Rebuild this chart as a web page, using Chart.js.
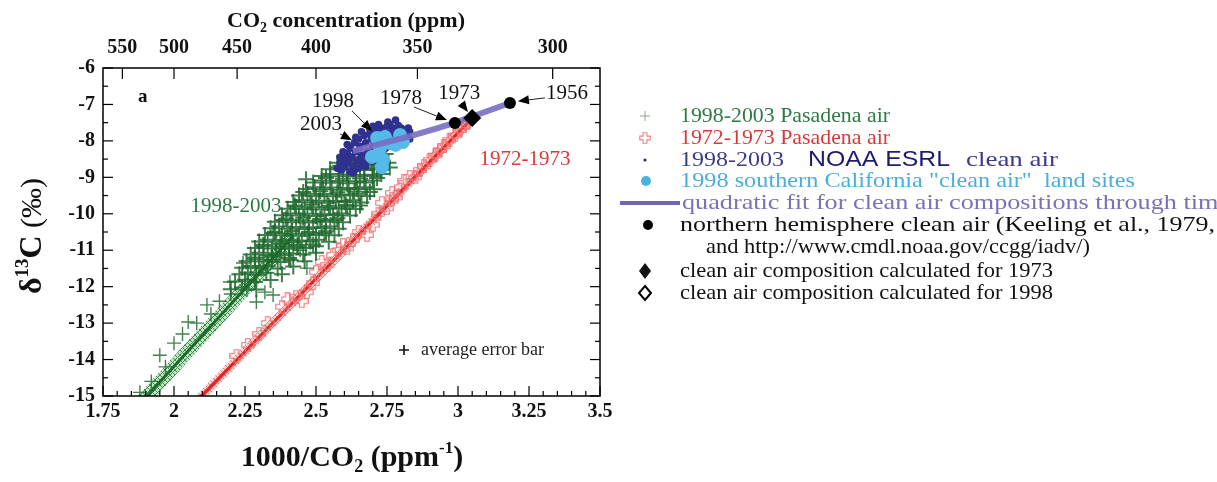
<!DOCTYPE html>
<html><head><meta charset="utf-8">
<script src="https://cdn.jsdelivr.net/npm/chart.js@4.4.0/dist/chart.umd.min.js"></script>
<style>html,body{margin:0;padding:0;background:#fff;}#wrap{width:1217px;height:482px;position:relative;}</style>
</head><body><div id="wrap"><canvas id="c" width="1217" height="482"></canvas></div>
<script>
// ---- tick labels ----
const xTickValues = [1.75, 2, 2.25, 2.5, 2.75, 3, 3.25, 3.5];
const xTickLabels = ['1.75', '2', '2.25', '2.5', '2.75', '3', '3.25', '3.5'];
const yTickValues = [-6, -7, -8, -9, -10, -11, -12, -13, -14, -15];
const yTickLabels = ['-6', '-7', '-8', '-9', '-10', '-11', '-12', '-13', '-14', '-15'];
const topTickPpm = [550, 500, 450, 400, 350, 300];

// ---- series values (x = 1000/CO2, y = d13C) ----
const pasadena98Fit = [[1.85, -15.47], [2.42, -10.60]];
const pasadena98Outliers = [
  [1.88,-14.9],[1.92,-14.6],[1.95,-13.88],[1.97,-14.2],[2.00,-13.55],[2.03,-13.3],[2.05,-12.97],[2.08,-13.0],[2.116,-12.5],[2.13,-12.75],
  [2.16,-12.4],[2.197,-11.87],[2.20,-12.2],[2.243,-11.35],[2.257,-12.09],[2.29,-12.42],[2.32,-12.15],[2.349,-12.23],[2.444,-11.0],[2.468,-11.49]
];
const pasadena98 = [
  [2.60,-8.42],[2.63,-8.37],[2.66,-8.44],[2.69,-8.38],[2.72,-8.43],[2.745,-8.36],
  [2.575,-8.6],[2.605,-8.55],[2.635,-8.61],[2.665,-8.56],[2.695,-8.62],[2.725,-8.57],[2.755,-8.6],
  [2.55,-8.78],[2.58,-8.73],[2.61,-8.79],[2.64,-8.74],[2.67,-8.8],[2.70,-8.75],[2.73,-8.78],[2.76,-8.73],
  [2.52,-8.96],[2.55,-8.91],[2.58,-8.97],[2.61,-8.92],[2.64,-8.98],[2.67,-8.93],[2.70,-8.96],[2.73,-8.91],
  [2.49,-9.14],[2.52,-9.09],[2.55,-9.15],[2.58,-9.1],[2.61,-9.16],[2.64,-9.11],[2.67,-9.14],[2.70,-9.09],
  [2.465,-9.32],[2.495,-9.27],[2.525,-9.33],[2.555,-9.28],[2.585,-9.34],[2.615,-9.29],[2.645,-9.32],[2.675,-9.27],[2.705,-9.33],
  [2.44,-9.5],[2.47,-9.45],[2.50,-9.51],[2.53,-9.46],[2.56,-9.52],[2.59,-9.47],[2.62,-9.5],[2.65,-9.45],[2.68,-9.51],
  [2.42,-9.68],[2.45,-9.63],[2.48,-9.69],[2.51,-9.64],[2.54,-9.7],[2.57,-9.65],[2.60,-9.68],[2.63,-9.63],[2.66,-9.69],
  [2.40,-9.86],[2.43,-9.81],[2.46,-9.87],[2.49,-9.82],[2.52,-9.88],[2.55,-9.83],[2.58,-9.86],[2.61,-9.81],[2.64,-9.87],
  [2.38,-10.04],[2.41,-9.99],[2.44,-10.05],[2.47,-10.0],[2.50,-10.06],[2.53,-10.01],[2.56,-10.04],[2.59,-9.99],[2.62,-10.05],
  [2.355,-10.22],[2.385,-10.17],[2.415,-10.23],[2.445,-10.18],[2.475,-10.24],[2.505,-10.19],[2.535,-10.22],[2.565,-10.17],[2.595,-10.23],
  [2.34,-10.4],[2.37,-10.35],[2.40,-10.41],[2.43,-10.36],[2.46,-10.42],[2.49,-10.37],[2.52,-10.4],[2.55,-10.35],[2.58,-10.41],
  [2.32,-10.58],[2.35,-10.53],[2.38,-10.59],[2.41,-10.54],[2.44,-10.6],[2.47,-10.55],[2.50,-10.58],[2.53,-10.53],[2.565,-10.59],
  [2.30,-10.76],[2.33,-10.71],[2.36,-10.77],[2.39,-10.72],[2.42,-10.78],[2.45,-10.73],[2.48,-10.76],[2.51,-10.71],[2.545,-10.77],
  [2.285,-10.94],[2.315,-10.89],[2.345,-10.95],[2.375,-10.9],[2.405,-10.96],[2.435,-10.91],[2.465,-10.94],[2.50,-10.89],
  [2.27,-11.12],[2.30,-11.07],[2.33,-11.13],[2.36,-11.08],[2.39,-11.14],[2.42,-11.09],[2.455,-11.12],[2.50,-11.07],
  [2.255,-11.3],[2.285,-11.25],[2.315,-11.31],[2.345,-11.26],[2.375,-11.32],[2.41,-11.27],[2.46,-11.3],
  [2.24,-11.48],[2.27,-11.43],[2.30,-11.49],[2.33,-11.44],[2.365,-11.5],[2.42,-11.45],
  [2.23,-11.66],[2.26,-11.61],[2.29,-11.67],[2.325,-11.62],[2.38,-11.66],
  [2.215,-11.86],[2.25,-11.81],[2.285,-11.87],[2.34,-11.82],
  [2.20,-12.07],[2.24,-12.02],[2.29,-12.08],
  [2.465,-9.05],[2.535,-9.02],[2.595,-9.04],[2.655,-9.03],[2.715,-9.02],
  [2.455,-9.4],[2.515,-9.38],[2.575,-9.41],[2.635,-9.39],[2.69,-9.4],
  [2.425,-9.77],[2.485,-9.75],[2.545,-9.78],[2.605,-9.76],[2.655,-9.77],
  [2.395,-10.13],[2.455,-10.11],[2.515,-10.14],[2.575,-10.12],
  [2.355,-10.49],[2.415,-10.47],[2.475,-10.5],[2.535,-10.48],
  [2.315,-10.85],[2.375,-10.83],[2.435,-10.86],[2.49,-10.84],
  [2.285,-11.2],[2.345,-11.18],[2.405,-11.21],
  [2.585,-8.68],[2.645,-8.66],[2.705,-8.67],[2.62,-8.48],[2.68,-8.5]
];
const pasadena72Fit = [[2.085, -15.10], [3.035, -7.50]];
const pasadena72 = [
  [2.22,-13.9],[2.26,-13.6],[2.30,-13.3],[2.33,-13.0],[2.38,-12.55],[2.40,-12.35],[2.43,-12.28],[2.45,-12.4],[2.468,-12.15],[2.49,-11.9],
  [2.50,-11.6],[2.52,-11.32],[2.54,-11.4],[2.56,-11.13],[2.58,-11.0],[2.595,-10.86],[2.61,-10.95],[2.63,-10.72],[2.65,-10.5],[2.68,-10.58],
  [2.70,-10.3],[2.72,-10.0],[2.732,-9.7],[2.75,-9.85],[2.768,-9.43],[2.768,-9.6],[2.78,-9.55],[2.80,-9.27],[2.81,-9.1],[2.83,-8.99],
  [2.85,-9.0],[2.866,-8.8],[2.88,-8.7],[2.90,-8.52],[2.92,-8.4],[2.937,-8.25],[2.95,-8.15],[2.97,-7.98],[2.99,-7.85],[3.007,-7.7],
  [3.02,-7.6],[3.032,-7.51]
];
const noaaClean = [
  [2.575,-8.75],[2.585,-8.6],[2.59,-8.8],[2.60,-8.5],[2.60,-8.7],[2.61,-8.35],[2.615,-8.6],[2.62,-8.2],[2.625,-8.45],[2.63,-8.7],
  [2.635,-8.05],[2.64,-8.3],[2.645,-8.55],[2.65,-7.95],[2.655,-8.15],[2.66,-8.4],[2.665,-8.6],[2.67,-7.85],[2.675,-8.05],[2.68,-8.3],
  [2.685,-8.5],[2.69,-7.8],[2.695,-7.95],[2.70,-8.15],[2.705,-8.4],[2.71,-7.7],[2.715,-7.9],[2.72,-8.1],[2.725,-8.3],[2.73,-7.65],
  [2.735,-7.85],[2.74,-8.0],[2.745,-8.2],[2.75,-7.6],[2.755,-7.8],[2.76,-7.95],[2.765,-8.15],[2.77,-7.65],[2.775,-7.85],[2.78,-8.0],
  [2.785,-7.7],[2.79,-7.9],[2.795,-8.1],[2.80,-7.65],[2.805,-7.8],[2.81,-7.95],[2.815,-7.7],[2.82,-7.85],[2.825,-7.65],[2.83,-7.75],
  [2.753,-7.48],[2.78,-7.43],[2.70,-7.6],[2.61,-8.1],[2.64,-7.9],[2.585,-8.45],[2.595,-8.3],[2.62,-8.85],[2.65,-8.75],[2.675,-8.7],
  [2.70,-8.55],[2.73,-8.45],[2.66,-7.75],[2.69,-7.68],[2.72,-7.55],[2.76,-7.55],[2.79,-7.58],[2.81,-8.1],[2.83,-7.95],[2.63,-8.88]
];
const socalLand = [
  [2.715,-7.92],[2.743,-7.89],[2.796,-7.84],[2.806,-8.03],[2.76,-8.06],[2.725,-8.2],[2.736,-8.52],[2.732,-8.72],[2.78,-8.11],[2.697,-8.44]
];
const quadFit = [[2.63,-8.28],[2.736,-8.06],[2.85,-7.83],[2.982,-7.52],[3.05,-7.33],[3.183,-6.96]];
const nhClean = [[2.989,-7.51],[3.183,-6.96]];
const calc1973 = [[3.05,-7.37]];

const SERIF = "'Liberation Serif','Times New Roman',serif";
const SANS = "'Liberation Sans',Arial,sans-serif";
const toXY = a => a.map(p => ({x: p[0], y: p[1]}));

const cvs = document.getElementById('c');
const ctx0 = cvs.getContext('2d');
function hatch(bg, fg) {
  const c = document.createElement('canvas'); c.width = c.height = 5;
  const g = c.getContext('2d'); g.fillStyle = bg; g.fillRect(0, 0, 5, 5);
  g.strokeStyle = fg; g.lineWidth = 1; g.beginPath();
  g.moveTo(0, 0); g.lineTo(5, 5); g.moveTo(5, 0); g.lineTo(0, 5); g.stroke();
  return ctx0.createPattern(c, 'repeat');
}
function openCross(col, n) {
  const c = document.createElement('canvas'); c.width = c.height = n;
  const g = c.getContext('2d'); g.strokeStyle = col; g.lineWidth = 1.1;
  const e = 0.8, f = n - 0.8, a = n * 0.34, b = n * 0.66;
  g.beginPath(); g.moveTo(a, e); g.lineTo(b, e); g.lineTo(b, a); g.lineTo(f, a); g.lineTo(f, b); g.lineTo(b, b);
  g.lineTo(b, f); g.lineTo(a, f); g.lineTo(a, b); g.lineTo(e, b); g.lineTo(e, a); g.lineTo(a, a); g.closePath(); g.stroke();
  return c;
}
const redMarker = openCross('#ee6f6f', 14);
const redLegend = openCross('#ee8080', 12);

function runs(ctx, parts, x, y, align) {
  let w = 0;
  parts.forEach(p => { ctx.font = p[1]; w += ctx.measureText(p[0]).width; });
  let cx = align === 'center' ? x - w / 2 : x;
  ctx.textAlign = 'left'; ctx.textBaseline = 'alphabetic';
  parts.forEach(p => { ctx.font = p[1]; if (p[3]) ctx.fillStyle = p[3]; ctx.fillText(p[0], cx, y + (p[2] || 0)); cx += ctx.measureText(p[0]).width; });
}
function fitText(ctx, text, x, y, width) {
  const w = ctx.measureText(text).width;
  ctx.save(); ctx.translate(x, y); ctx.scale(width / w, 1);
  ctx.textAlign = 'left'; ctx.fillText(text, 0, 0); ctx.restore();
}
function arrow(ctx, x1, y1, x2, y2) {
  ctx.strokeStyle = '#222'; ctx.fillStyle = '#000'; ctx.lineWidth = 1;
  const ang = Math.atan2(y2 - y1, x2 - x1), L = 11, W = 4.5;
  const bx = x2 - L * Math.cos(ang), by = y2 - L * Math.sin(ang);
  ctx.beginPath(); ctx.moveTo(x1, y1); ctx.lineTo(bx, by); ctx.stroke();
  ctx.beginPath(); ctx.moveTo(x2, y2);
  ctx.lineTo(bx + W * Math.sin(ang), by - W * Math.cos(ang));
  ctx.lineTo(bx - W * Math.sin(ang), by + W * Math.cos(ang)); ctx.closePath(); ctx.fill();
}

const decor = {
  id: 'decor',
  afterDraw(chart) {
    const ctx = chart.ctx, a = chart.chartArea, xs = chart.scales.x, ys = chart.scales.y;
    ctx.save();
    ctx.strokeStyle = '#000'; ctx.lineWidth = 1.5;
    ctx.strokeRect(a.left, a.top, a.right - a.left, a.bottom - a.top);
    ctx.lineWidth = 1.2;
    for (let i = 0; i <= 35; i++) {
      const v = 1.75 + i * 0.05, px = xs.getPixelForValue(v), len = i % 5 === 0 ? 10 : 5;
      ctx.beginPath(); ctx.moveTo(px, a.bottom); ctx.lineTo(px, a.bottom - len); ctx.stroke();
    }
    topTickPpm.forEach(p => { const px = xs.getPixelForValue(1000 / p); ctx.beginPath(); ctx.moveTo(px, a.top); ctx.lineTo(px, a.top + 11); ctx.stroke(); });
    for (let i = 0; i <= 18; i++) {
      const v = -15 + i * 0.5, py = ys.getPixelForValue(v), len = i % 2 === 0 ? 10 : 5;
      ctx.beginPath(); ctx.moveTo(a.left, py); ctx.lineTo(a.left + len, py); ctx.stroke();
      ctx.beginPath(); ctx.moveTo(a.right, py); ctx.lineTo(a.right - len, py); ctx.stroke();
    }
    ctx.fillStyle = '#111'; ctx.font = 'bold 20px ' + SERIF;
    ctx.textAlign = 'center'; ctx.textBaseline = 'middle';
    xTickValues.forEach((v, i) => ctx.fillText(xTickLabels[i], xs.getPixelForValue(v), a.bottom + 16));
    topTickPpm.forEach(p => ctx.fillText(String(p), xs.getPixelForValue(1000 / p), a.top - 20));
    ctx.textAlign = 'right';
    yTickValues.forEach((v, i) => ctx.fillText(yTickLabels[i], a.left - 8, ys.getPixelForValue(v)));
    ctx.fillStyle = '#111';
    runs(ctx, [['CO', 'bold 22px ' + SERIF, 0], ['2', 'bold 14px ' + SERIF, 5], [' concentration (ppm)', 'bold 22px ' + SERIF, 0]], 346, 27, 'center');
    runs(ctx, [['1000/CO', 'bold 30px ' + SERIF, 0], ['2', 'bold 18px ' + SERIF, 6], [' (ppm', 'bold 30px ' + SERIF, 0], ['-1', 'bold 17px ' + SERIF, -13], [')', 'bold 30px ' + SERIF, 0]], 352, 466, 'center');
    ctx.save(); ctx.translate(41, 236); ctx.rotate(-Math.PI / 2);
    runs(ctx, [['\u03B4', 'bold 32px ' + SERIF, 0], ['13', 'bold 19px ' + SERIF, -13], ['C', 'bold 32px ' + SERIF, 0], [' (\u2030)', '30px ' + SERIF, 0]], 0, 0, 'center');
    ctx.restore();
    ctx.textBaseline = 'middle'; ctx.textAlign = 'center';
    ctx.font = 'bold 19px ' + SERIF; ctx.fillStyle = '#111';
    ctx.fillText('a', xs.getPixelForValue(1.89), ys.getPixelForValue(-6.8));
    ctx.font = '21px ' + SERIF; ctx.fillStyle = '#2e7a45';
    ctx.fillText('1998-2003', xs.getPixelForValue(2.218), ys.getPixelForValue(-9.81));
    ctx.fillStyle = '#d83a3a';
    ctx.fillText('1972-1973', xs.getPixelForValue(3.236), ys.getPixelForValue(-8.52));
    const yearLabels = [
      ['1998', 2.56, -6.93, 2.627, -7.18, 2.697, -7.73],
      ['2003', 2.518, -7.54, 2.585, -7.81, 2.627, -7.98],
      ['1978', 2.799, -6.85, 2.845, -7.07, 2.961, -7.43],
      ['1973', 3.004, -6.69, 3.014, -6.99, 3.035, -7.21],
      ['1956', 3.384, -6.71, 3.306, -6.82, 3.211, -6.91]
    ];
    yearLabels.forEach(l => {
      ctx.font = '21px ' + SERIF; ctx.fillStyle = '#111'; ctx.textAlign = 'center'; ctx.textBaseline = 'middle';
      ctx.fillText(l[0], xs.getPixelForValue(l[1]), ys.getPixelForValue(l[2]));
      arrow(ctx, xs.getPixelForValue(l[3]), ys.getPixelForValue(l[4]), xs.getPixelForValue(l[5]), ys.getPixelForValue(l[6]));
    });
    ctx.strokeStyle = '#111'; ctx.lineWidth = 1.6;
    ctx.beginPath(); ctx.moveTo(399, 350); ctx.lineTo(409, 350); ctx.moveTo(404, 345); ctx.lineTo(404, 355); ctx.stroke();
    ctx.fillStyle = '#222'; ctx.font = '18px ' + SERIF; ctx.textAlign = 'left'; ctx.textBaseline = 'middle';
    ctx.fillText('average error bar', 421, 350);

    // ---- legend ----
    const LF = '22px ' + SERIF, TX = 680;
    ctx.textBaseline = 'middle'; ctx.textAlign = 'left';
    ctx.strokeStyle = '#8aa890'; ctx.lineWidth = 1;
    ctx.beginPath(); ctx.moveTo(640, 116); ctx.lineTo(650, 116); ctx.moveTo(645, 111); ctx.lineTo(645, 121); ctx.stroke();
    ctx.font = LF; ctx.fillStyle = '#2e7a45'; fitText(ctx, '1998-2003 Pasadena air', TX, 116, 210);
    ctx.drawImage(redLegend, 639, 132, 12, 12);
    ctx.fillStyle = '#d83a3a'; fitText(ctx, '1972-1973 Pasadena air', TX, 138, 210);
    ctx.fillStyle = '#2a2a7a'; ctx.beginPath(); ctx.arc(645, 160, 1.6, 0, 7); ctx.fill();
    ctx.font = LF; ctx.fillStyle = '#3b3b88'; fitText(ctx, '1998-2003', TX, 160, 104);
    ctx.font = '22px ' + SANS; ctx.fillStyle = '#1c1c6e'; fitText(ctx, 'NOAA ESRL', 808, 160, 142);
    ctx.font = LF; ctx.fillStyle = '#3b3b88'; fitText(ctx, 'clean air', 966, 160, 92);
    ctx.fillStyle = '#48b4e6'; ctx.beginPath(); ctx.arc(646, 181, 5, 0, 7); ctx.fill();
    ctx.font = LF; ctx.fillStyle = '#4aaedc'; fitText(ctx, '1998 southern California "clean air"  land sites', TX, 181, 455);
    ctx.strokeStyle = '#6f66b8'; ctx.lineWidth = 4; ctx.beginPath(); ctx.moveTo(620, 203); ctx.lineTo(680, 203); ctx.stroke();
    ctx.fillStyle = '#7a72b5'; fitText(ctx, 'quadratic fit for clean air compositions through time', TX + 2, 203, 548);
    ctx.fillStyle = '#000'; ctx.beginPath(); ctx.arc(648, 225, 5, 0, 7); ctx.fill();
    ctx.fillStyle = '#111'; fitText(ctx, 'northern hemisphere clean air (Keeling et al., 1979,', TX, 225, 535);
    fitText(ctx, 'and http://www.cmdl.noaa.gov/ccgg/iadv/)', 706, 247, 384);
    ctx.beginPath(); ctx.moveTo(645, 263); ctx.lineTo(651, 271); ctx.lineTo(645, 279); ctx.lineTo(639, 271); ctx.closePath(); ctx.fill();
    fitText(ctx, 'clean air composition calculated for 1973', TX, 271, 373);
    ctx.strokeStyle = '#000'; ctx.lineWidth = 2;
    ctx.beginPath(); ctx.moveTo(645, 286); ctx.lineTo(651, 293); ctx.lineTo(645, 300); ctx.lineTo(639, 293); ctx.closePath(); ctx.stroke();
    fitText(ctx, 'clean air composition calculated for 1998', TX, 293, 373);
    ctx.restore();
  }
};

new Chart(cvs, {
  type: 'scatter',
  data: {
    datasets: [
      { label: 'calc 1973', data: toXY(calc1973), order: 0, pointStyle: 'rectRot', pointRadius: 9, backgroundColor: '#000', borderColor: '#000', borderWidth: 0 },
      { label: 'NH clean air', data: toXY(nhClean), order: 1, pointStyle: 'circle', pointRadius: 6, backgroundColor: '#000', borderWidth: 0 },
      { label: 'quadratic fit', data: toXY(quadFit), order: 2, showLine: true, tension: 0.4, pointRadius: 0, borderColor: 'rgba(120,110,195,0.9)', borderWidth: 6 },
      { label: 'SoCal land', data: toXY(socalLand), order: 3, pointStyle: 'circle', pointRadius: 7, backgroundColor: '#55b9ea', borderWidth: 0 },
      { label: 'NOAA', data: toXY(noaaClean), order: 4, pointStyle: 'circle', pointRadius: 3.8, backgroundColor: '#30308f', borderWidth: 0 },
      { label: 'Pasadena 98', data: toXY(pasadena98), order: 5, pointStyle: 'cross', pointRadius: 8, borderColor: 'rgba(30,105,46,0.85)', borderWidth: 2 },
      { label: 'Pasadena 98 outliers', data: toXY(pasadena98Outliers), order: 5, pointStyle: 'cross', pointRadius: 7, borderColor: 'rgba(32,108,48,0.85)', borderWidth: 1.4 },
      { label: 'Pasadena 98 core', data: toXY(pasadena98Fit), order: 6, showLine: true, pointRadius: 0, borderColor: '#1c6a2c', borderWidth: 3, clip: 0 },
      { label: 'Pasadena 98 band', data: toXY(pasadena98Fit), order: 7, showLine: true, pointRadius: 0, borderColor: hatch('#c4e3c5', '#3f9150'), borderWidth: 14, borderCapStyle: 'butt', clip: 0 },
      { label: 'Pasadena 72', data: toXY(pasadena72), order: 8, pointStyle: redMarker, pointRadius: 7 },
      { label: 'Pasadena 72 core', data: toXY(pasadena72Fit), order: 9, showLine: true, pointRadius: 0, borderColor: '#e02424', borderWidth: 3, clip: 0 },
      { label: 'Pasadena 72 band', data: toXY(pasadena72Fit), order: 10, showLine: true, pointRadius: 0, borderColor: hatch('#fbd2d2', '#ef7a7a'), borderWidth: 9, borderCapStyle: 'butt', clip: 0 }
    ]
  },
  options: {
    responsive: false, animation: false, devicePixelRatio: 1,
    layout: { padding: { left: 103, right: 617, top: 68, bottom: 86 } },
    scales: {
      x: { type: 'linear', min: 1.75, max: 3.5, display: false },
      y: { type: 'linear', min: -15, max: -6, display: false }
    },
    plugins: { legend: { display: false }, tooltip: { enabled: false } },
    events: []
  },
  plugins: [decor]
});
</script>
</body></html>
